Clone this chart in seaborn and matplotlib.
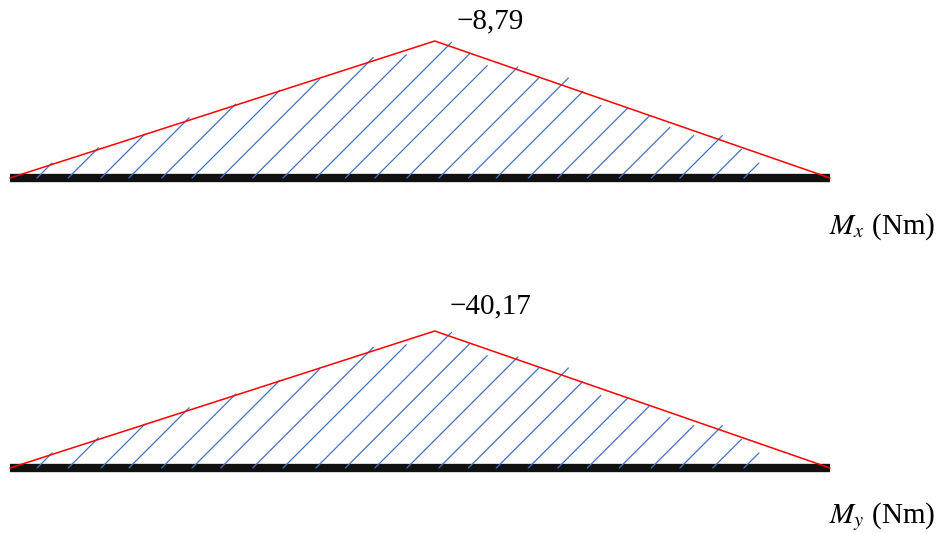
import numpy as np
import matplotlib
matplotlib.use("Agg")
import matplotlib.pyplot as plt
import seaborn as sns

# beam positions (fraction of span) and moment values at those points
beam_x = [0.0, 0.518, 1.0]
mx_values = [0.0, -8.79, 0.0]
my_values = [0.0, -40.17, 0.0]
peak_labels = ["\u22128,79", "\u221240,17"]
axis_labels = [r"$M_x$ (Nm)", r"$M_y$ (Nm)"]

# hand-drawn hatch strokes: start on the beam (fraction of span) and
# height reached (fraction of the peak height)
hatch_x = [0.033, 0.071, 0.111, 0.145, 0.185, 0.222, 0.257, 0.296,
           0.333, 0.373, 0.409, 0.445, 0.484, 0.523, 0.559, 0.593,
           0.632, 0.668, 0.704, 0.743, 0.782, 0.817, 0.857, 0.895]
hatch_h = [0.11, 0.22, 0.32, 0.44, 0.54, 0.64, 0.72, 0.88,
           0.90, 0.99, 0.91, 0.82, 0.81, 0.73, 0.73, 0.63,
           0.53, 0.51, 0.45, 0.37, 0.31, 0.31, 0.21, 0.11]

sns.set_theme(style="white")
plt.rcParams["mathtext.fontset"] = "stix"
plt.rcParams["font.family"] = ["Liberation Serif", "DejaVu Serif"]

W, H = 940, 533
fig = plt.figure(figsize=(W / 100, H / 100), dpi=100)

# pixel layout: (beam baseline y, peak y, label baseline y, axis label y)
layout = [(178, 41, 28, 227), (468, 331, 313, 517)]
x0_px, x1_px = 10, 830
span_px = x1_px - x0_px


def draw_diagram(ax, values, peak_text, axis_text, base_px, peak_px, lab_px, ax_lab_px, top_px, bot_px):
    vals = np.array(values, dtype=float)
    norm = vals / vals.min()  # 0..1, negative moment drawn upwards
    h_px = base_px - peak_px
    ax.set_xlim(-x0_px / span_px, (W - x0_px) / span_px)
    ax.set_ylim(-(bot_px - base_px) / h_px, (base_px - top_px) / h_px)
    ax.axis("off")

    # beam
    ax.plot([0, 1], [0, 0], color="#111111", lw=6, solid_capstyle="butt", zorder=2)

    # hatch strokes at ~45 degrees on screen
    k = h_px / span_px
    for hx, hh in zip(hatch_x, hatch_h):
        ax.plot([hx, hx + hh * k], [0, hh], color="#4472C4", lw=0.9, zorder=3)

    # outline
    sns.lineplot(x=beam_x, y=norm, ax=ax, color="#FF0000", lw=1.1, zorder=4,
                 sort=False, estimator=None)

    fig.text(490 / W, 1 - lab_px / H, peak_text, ha="center", va="baseline",
             fontsize=21, color="black")
    fig.text(935 / W, 1 - ax_lab_px / H, axis_text, ha="right", va="center",
             fontsize=21, color="black")


for i, (vals, ptxt, atxt) in enumerate(zip([mx_values, my_values], peak_labels, axis_labels)):
    base_px, peak_px, lab_px, ax_lab_px = layout[i]
    top_px, bot_px = (0, 266) if i == 0 else (266, 533)
    ax = fig.add_axes([0, 1 - bot_px / H, 1, (bot_px - top_px) / H])
    draw_diagram(ax, vals, ptxt, atxt, base_px, peak_px, lab_px, ax_lab_px, top_px, bot_px)

fig.savefig("out.png", dpi=100)
